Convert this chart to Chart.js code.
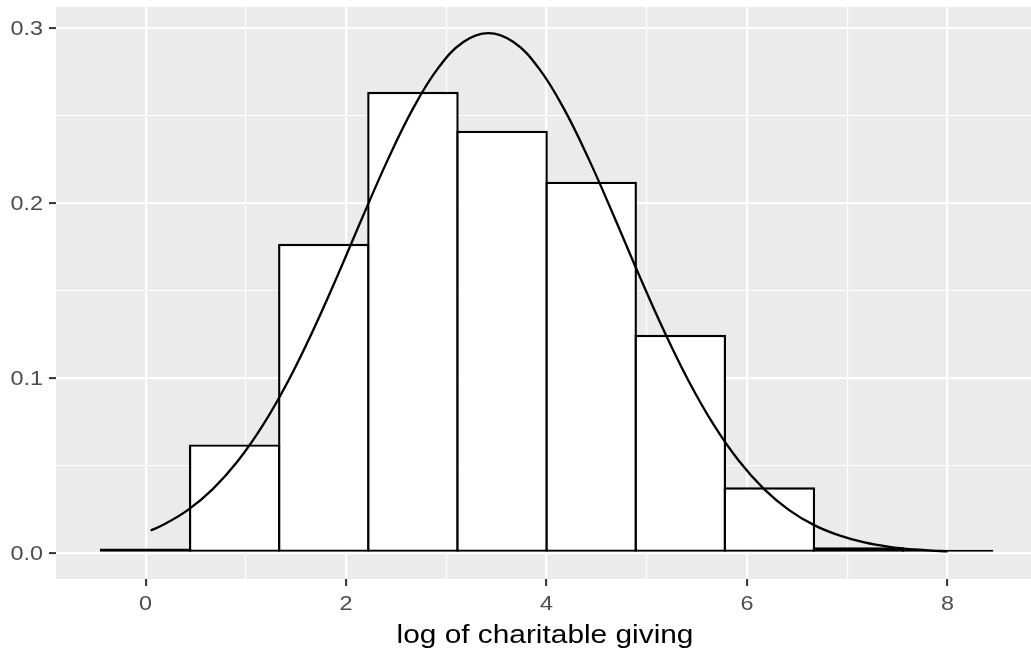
<!DOCTYPE html>
<html>
<head>
<meta charset="utf-8">
<script src="https://cdn.jsdelivr.net/npm/chart.js@4.4.1/dist/chart.umd.min.js"></script>
<style>
  html, body { margin: 0; padding: 0; background: #fff; }
  canvas { display: block; }
</style>
</head>
<body>
<canvas id="hist" width="1031" height="656"></canvas>
<script>
// histogram bins (centre of each bin) and their density
const binCenters = [0.0, 0.889, 1.778, 2.667, 3.556, 4.445, 5.334, 6.223, 7.112, 8.001];
const binDensity = [0.0025, 0.062, 0.1767, 0.2635, 0.2413, 0.2122, 0.1247, 0.0375, 0.0032, 0.0018];

// normal curve
const curveX = [0.05, 0.17, 0.42, 0.67, 0.92, 1.17, 1.42, 1.67, 1.92, 2.17, 2.42, 2.67, 2.92, 3.17,
  3.42, 3.67, 3.92, 4.17, 4.42, 4.67, 4.92, 5.17, 5.42, 5.67, 5.92, 6.17, 6.42, 6.67, 6.92, 7.17,
  7.42, 7.67, 7.92, 8.0];
const curveY = [0.0128, 0.0159, 0.0245, 0.0365, 0.0525, 0.0730, 0.0980, 0.1271, 0.1592, 0.1927,
  0.2252, 0.2542, 0.2772, 0.2920, 0.2971, 0.2920, 0.2772, 0.2542, 0.2252, 0.1927, 0.1592, 0.1271,
  0.0980, 0.0730, 0.0525, 0.0365, 0.0245, 0.0159, 0.0100, 0.0060, 0.0035, 0.0020, 0.0011, 0.0009];

const xTicks = [0, 1, 2, 3, 4, 5, 6, 7, 8];
const yTicks = [0, 0.05, 0.1, 0.15, 0.2, 0.25, 0.3];
const xTitle = "log of charitable giving";

const isMajorX = (v) => v % 2 === 0;
const isMajorY = (v) => Math.abs(v * 10 - Math.round(v * 10)) < 1e-6;

// the reference text is a bit wider than Liberation Sans, so stretch it
const STRETCH = 1.17;
const FONT = "'Liberation Sans', Arial, sans-serif";

function wideText(ctx, text, x, y, align) {
  ctx.save();
  ctx.translate(x, y);
  ctx.scale(STRETCH, 1);
  ctx.textAlign = align;
  ctx.textBaseline = "alphabetic";
  ctx.fillText(text, 0, 0);
  ctx.restore();
}

const panelBg = {
  id: "panelBg",
  beforeDraw(chart) {
    const { ctx, chartArea: a } = chart;
    ctx.save();
    ctx.fillStyle = "#EBEBEB";
    ctx.fillRect(a.left, a.top, a.right - a.left, a.bottom - a.top);
    ctx.restore();
  },
  afterDraw(chart) {
    const { ctx, chartArea: a, scales } = chart;
    ctx.save();
    ctx.fillStyle = "#4D4D4D";
    ctx.font = "20px " + FONT;
    xTicks.filter(isMajorX).forEach((v) => {
      wideText(ctx, String(v), scales.x.getPixelForValue(v), a.bottom + 31, "center");
    });
    yTicks.filter(isMajorY).forEach((v) => {
      wideText(ctx, v.toFixed(1), a.left - 13, scales.y.getPixelForValue(v) + 7, "right");
    });
    ctx.fillStyle = "#000";
    ctx.font = "25.5px " + FONT;
    wideText(ctx, xTitle, 545, a.bottom + 64, "center");
    ctx.restore();
  }
};

new Chart(document.getElementById("hist"), {
  type: "bar",
  data: {
    datasets: [
      {
        type: "line",
        data: curveX.map((x, i) => ({ x: x, y: curveY[i] })),
        borderColor: "#000",
        borderWidth: 2.3,
        pointRadius: 0,
        tension: 0.4,
        fill: false,
        order: 0
      },
      {
        type: "bar",
        data: binCenters.map((x, i) => ({ x: x, y: binDensity[i] })),
        backgroundColor: "#fff",
        borderColor: "#000",
        borderWidth: 2.4,
        borderSkipped: false,
        barPercentage: 1.0269, // borders of neighbouring bins overlap like in ggplot
        categoryPercentage: 1,
        order: 1
      }
    ]
  },
  options: {
    responsive: false,
    animation: false,
    layout: { padding: { top: 7, right: 0, bottom: 0, left: 0 } },
    plugins: { legend: { display: false }, tooltip: { enabled: false } },
    scales: {
      x: {
        type: "linear",
        min: -0.894,
        max: 8.833,
        offset: false,
        afterBuildTicks: (s) => { s.ticks = xTicks.map((v) => ({ value: v })); },
        afterFit: (s) => { s.height = 77; s.paddingLeft = 0; s.paddingRight = 0; },
        border: { display: false },
        grid: {
          offset: false,
          color: "#fff",
          lineWidth: (c) => (c.tick && isMajorX(c.tick.value) ? 2.2 : 1.1),
          drawTicks: true,
          tickLength: 7,
          tickWidth: 2,
          tickColor: (c) => (c.tick && isMajorX(c.tick.value) ? "#333333" : "rgba(0,0,0,0)")
        },
        ticks: { display: false, autoSkip: false }
      },
      y: {
        type: "linear",
        min: -0.0149,
        max: 0.312,
        afterBuildTicks: (s) => { s.ticks = yTicks.map((v) => ({ value: v })); },
        afterFit: (s) => { s.width = 56; s.paddingTop = 0; s.paddingBottom = 0; },
        border: { display: false },
        grid: {
          color: "#fff",
          lineWidth: (c) => (c.tick && isMajorY(c.tick.value) ? 2.2 : 1.1),
          drawTicks: true,
          tickLength: 7,
          tickWidth: 2,
          tickColor: (c) => (c.tick && isMajorY(c.tick.value) ? "#333333" : "rgba(0,0,0,0)")
        },
        ticks: { display: false, autoSkip: false }
      }
    }
  },
  plugins: [panelBg]
});
</script>
</body>
</html>
